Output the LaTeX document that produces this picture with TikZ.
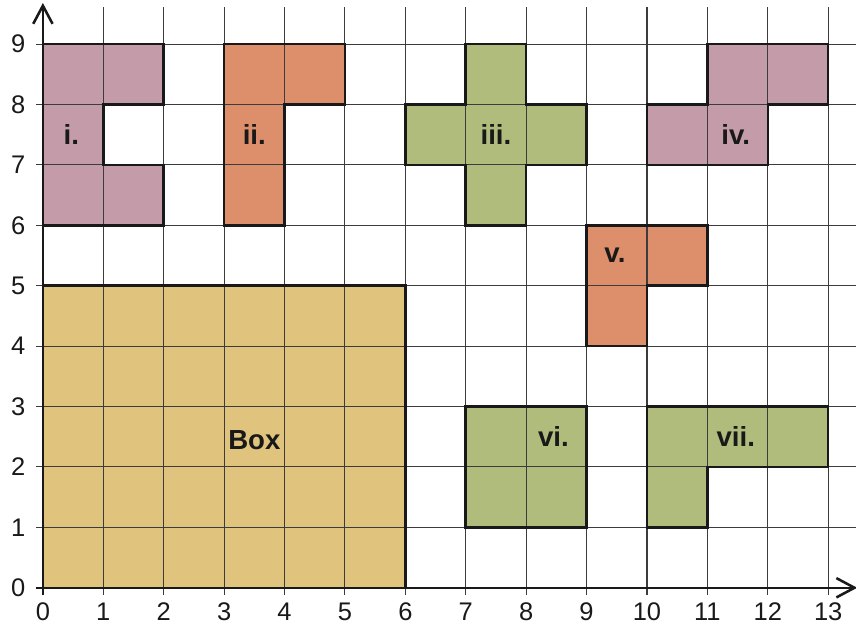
\documentclass[tikz,border=0pt]{standalone}
\usepackage{fontspec}
\setmainfont{Liberation Sans}
\usepackage{xcolor}
\usepackage{tikz}
\usetikzlibrary{arrows.meta}
\definecolor{mauve}{RGB}{196, 155, 168}
\definecolor{terra}{RGB}{221, 143, 107}
\definecolor{olive}{RGB}{176, 188, 124}
\definecolor{sand}{RGB}{224, 196, 126}
\definecolor{gridgray}{RGB}{60, 60, 60}

% outlines of the pieces
\def\pieceI{(0,6) -- (2,6) -- (2,7) -- (1,7) -- (1,8) -- (2,8) -- (2,9) -- (0,9) -- cycle}
\def\pieceII{(3,6) -- (4,6) -- (4,8) -- (5,8) -- (5,9) -- (3,9) -- cycle}
\def\pieceIII{(7,6) -- (8,6) -- (8,7) -- (9,7) -- (9,8) -- (8,8) -- (8,9) -- (7,9) -- (7,8) -- (6,8) -- (6,7) -- (7,7) -- cycle}
\def\pieceIV{(10,7) -- (12,7) -- (12,8) -- (13,8) -- (13,9) -- (11,9) -- (11,8) -- (10,8) -- cycle}
\def\pieceV{(9,4) -- (10,4) -- (10,5) -- (11,5) -- (11,6) -- (9,6) -- cycle}
\def\pieceVI{(7,1) -- (9,1) -- (9,3) -- (7,3) -- cycle}
\def\pieceVII{(10,1) -- (11,1) -- (11,2) -- (13,2) -- (13,3) -- (10,3) -- cycle}
\def\pieceBox{(0,0) -- (6,0) -- (6,5) -- (0,5) -- cycle}

\begin{document}
\begin{tikzpicture}[
    gridline/.style={draw=gridgray, line width=0.5pt},
    outline/.style={draw=black!90, line width=1.2pt, line join=miter},
    axis/.style={draw=black!90, line width=1.2pt, -{Straight Barb[length=3mm,width=3.2mm,line width=1.2pt]}},
    tag/.style={font=\fontsize{13}{15}\selectfont\bfseries, text=black!90},
    num/.style={font=\fontsize{12}{14}\selectfont, text=black!90}
  ]
  \useasboundingbox (-0.71,-0.7) rectangle (13.46,9.73);

  % fills first, grid goes on top of them
  \fill[mauve] \pieceI;
  \fill[terra] \pieceII;
  \fill[olive] \pieceIII;
  \fill[mauve] \pieceIV;
  \fill[terra] \pieceV;
  \fill[olive] \pieceVI;
  \fill[olive] \pieceVII;
  \fill[sand] \pieceBox;

  % grid lines with small ticks past the axes
  \foreach \x in {1,...,13} {
    \draw[gridline] (\x,-0.12) -- (\x,9.62);
  }
  \foreach \y in {1,...,9} {
    \draw[gridline] (-0.12,\y) -- (13.46,\y);
  }

  % axes
  \draw[axis] (0,-0.12) -- (0,9.68);
  \draw[axis] (-0.12,0) -- (13.48,0);

  % axis numbers
  \foreach \x in {0,...,13} {
    \node[num] (xl\x) at (\x,-0.4) {\x};
  }
  \foreach \y in {0,...,9} {
    \node[num] (yl\y) at (-0.41,\y) {\y};
  }

  % piece outlines
  \draw[outline] \pieceI;
  \draw[outline] \pieceII;
  \draw[outline] \pieceIII;
  \draw[outline] \pieceIV;
  \draw[outline] \pieceV;
  \draw[outline] \pieceVI;
  \draw[outline] \pieceVII;
  \draw[outline] \pieceBox;

  % piece labels
  \node[tag] (tagI) at (0.47,7.5) {i.};
  \node[tag] (tagII) at (3.5,7.5) {ii.};
  \node[tag] (tagIII) at (7.5,7.5) {iii.};
  \node[tag] (tagIV) at (11.47,7.5) {iv.};
  \node[tag] (tagV) at (9.47,5.5) {v.};
  \node[tag] (tagVI) at (8.45,2.5) {vi.};
  \node[tag] (tagVII) at (11.47,2.5) {vii.};
  \node[tag] (tagBox) at (3.5,2.45) {Box};
\end{tikzpicture}
\end{document}
